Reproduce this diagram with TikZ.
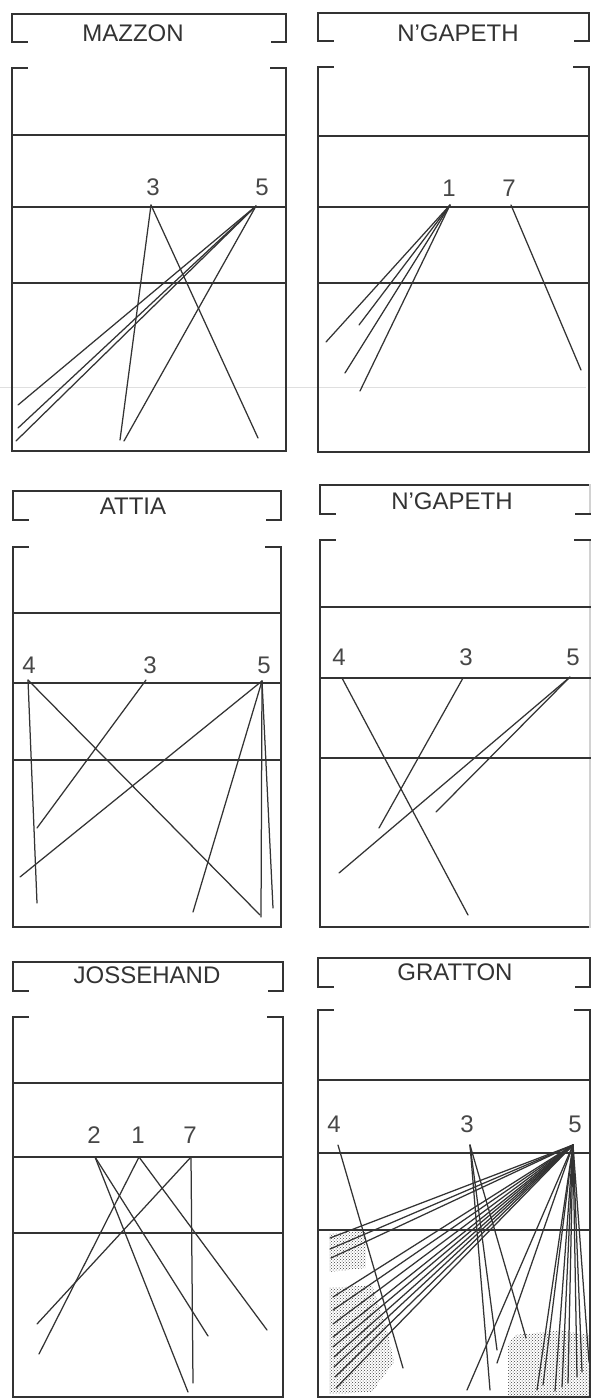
\documentclass[tikz,border=0pt]{standalone}
\usepackage{fontspec}
\setmainfont{Liberation Sans}
\usetikzlibrary{patterns}
\definecolor{ink}{HTML}{333333}
\newcommand\pnl[9]{%
  \draw[frame] ({#1+15},{#3+28.5}) -- (#1,{#3+28.5}) -- (#1,#3) -- (#2,#3);
  \draw[frame,draw=#9] (#2,#3) -- (#2,{#3+28.5});
  \draw[frame] (#2,{#3+28.5}) -- ({#2-14},{#3+28.5});
  \draw[frame] ({#1+15},#4) -- (#1,#4) -- (#1,#5) -- (#2,#5);
  \draw[frame,draw=#9] (#2,#5) -- (#2,#4);
  \draw[frame] (#2,#4) -- ({#2-15},#4);
  \draw[frame] (#1,#6) -- (#2,#6);
  \draw[frame] (#1,#7) -- (#2,#7);
  \draw[frame] (#1,#8) -- (#2,#8);
}
\newcommand\fan[2]{%
  \foreach \x/\y [count=\i] in {#2}{%
    \coordinate (#1e\i) at (\x,\y);
    \draw[shot] (#1) -- (#1e\i);
  }%
}
\begin{document}
\begin{tikzpicture}[x=1pt,y=-1pt,
  frame/.style={line width=2pt, draw=ink, line cap=rect},
  shot/.style={line width=1.25pt, draw=ink, line cap=round},
  title/.style={font=\fontsize{24}{28}\selectfont, text=ink, inner sep=0pt},
  num/.style={font=\fontsize{24}{27}\selectfont, text=ink!90, inner sep=0pt},
  stip/.style={pattern=crosshatch dots, pattern color=black!75}]
\useasboundingbox (0,0) rectangle (592,1399);
\fill[white] (0,0) rectangle (592,1399);
% faint scan line
\draw[gray!25, line width=1pt] (0,387) -- (586,387);

% panels
\pnl{12}{286}{14}{68}{451}{135}{207}{283}{ink}
\pnl{318}{589}{13}{67}{452}{136}{207}{283}{ink}
\pnl{13}{281}{491}{547}{927}{613}{683}{760}{ink}
\pnl{320}{590}{485}{540}{927}{607}{678}{758}{gray!35}
\pnl{13}{283}{962}{1017}{1397}{1083}{1157}{1233}{ink}
\pnl{318}{590}{958}{1010}{1397}{1080}{1153}{1230}{ink}

% titles
\node[title] (tA) at (133,33) {MAZZON};
\node[title] (tB) at (458,33) {N'GAPETH};
\node[title] (tC) at (133,506) {ATTIA};
\node[title] (tD) at (452,501) {N'GAPETH};
\node[title] (tE) at (147,975) {JOSSEHAND};
\node[title] (tF) at (455,972) {GRATTON};

% stippled zones (GRATTON)
\fill[stip] (329,1234) -- (366,1230) -- (366,1268) -- (329,1272) -- cycle;
\fill[stip] (329,1288) -- (372,1285) -- (388,1333) -- (394,1362) -- (372,1392) -- (329,1394) -- cycle;
\fill[stip] (508,1345) -- (515,1335) -- (545,1332) -- (560,1330) -- (589,1335) -- (589,1396) -- (508,1396) -- cycle;

% MAZZON
\node[num] (A3) at (153,187) {3};
\node[num] (A5) at (262,187) {5};
\coordinate (A3o) at (151,205);
\coordinate (A5o) at (256,206);
\fan{A3o}{120/440, 258/438}
\fan{A5o}{18/405, 18/428, 16/441, 124/441}

% N'GAPETH top
\node[num] (B1) at (449,188) {1};
\node[num] (B7) at (509,188) {7};
\coordinate (B1o) at (450,205);
\coordinate (B7o) at (511,205);
\fan{B1o}{326/342, 359/325, 345/373, 360/391}
\fan{B7o}{581/370}

% ATTIA
\node[num] (C4) at (29,665) {4};
\node[num] (C3) at (150,665) {3};
\node[num] (C5) at (264,665) {5};
\coordinate (C4o) at (28,680);
\coordinate (C3o) at (146,680);
\coordinate (C5o) at (262,681);
\fan{C4o}{37/903, 260/915}
\fan{C3o}{37/828}
\fan{C5o}{20/877, 193/912, 261/917, 273/908}

% N'GAPETH middle
\node[num] (D4) at (339,657) {4};
\node[num] (D3) at (466,657) {3};
\node[num] (D5) at (573,657) {5};
\coordinate (D4o) at (342,678);
\coordinate (D3o) at (463,678);
\coordinate (D5o) at (570,677);
\fan{D4o}{468/915}
\fan{D3o}{379/828}
\fan{D5o}{339/873, 436/812}

% JOSSEHAND
\node[num] (E2) at (94,1135) {2};
\node[num] (E1) at (138,1135) {1};
\node[num] (E7) at (190,1135) {7};
\coordinate (E2o) at (95,1157);
\coordinate (E1o) at (139,1157);
\coordinate (E7o) at (191,1157);
\fan{E2o}{188/1392, 208/1336}
\fan{E1o}{39/1354, 267/1330}
\fan{E7o}{37/1324, 193/1383}

% GRATTON
\node[num] (F4) at (334,1124) {4};
\node[num] (F3) at (467,1124) {3};
\node[num] (F5) at (575,1124) {5};
\coordinate (F4o) at (338,1145);
\coordinate (F3o) at (470,1145);
\coordinate (F5o) at (573,1145);
\fan{F4o}{403/1368}
\fan{F3o}{490/1390, 497/1350, 526/1338}
\fan{F5o}{330/1238, 330/1249, 331/1258, 333/1297, 333/1310, 333/1324, 333/1337, 333/1347, 334/1357, 334/1367, 335/1377, 336/1388, 467/1390, 497/1363, 537/1390, 543/1385, 555/1391, 562/1387, 568/1383, 577/1377, 582/1372, 589/1362}
\end{tikzpicture}
\end{document}
